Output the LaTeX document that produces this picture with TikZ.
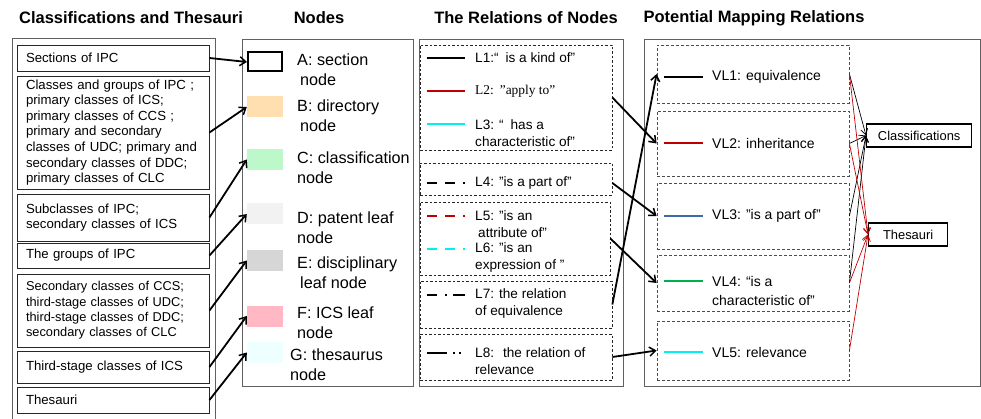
\documentclass[tikz,border=0pt]{standalone}
\usepackage{fontspec}
\setmainfont{Liberation Sans}
\newfontfamily\serifface{Liberation Serif}
\usetikzlibrary{arrows.meta}
\definecolor{darkred}{HTML}{C00000}
\definecolor{brightcyan}{HTML}{00F0F0}
\definecolor{steel}{HTML}{3E6AA8}
\definecolor{vgreen}{HTML}{00B050}
\definecolor{frame}{HTML}{606060}
\definecolor{peach}{HTML}{FFDEB0}
\definecolor{mint}{HTML}{BDF8CB}
\definecolor{paper}{HTML}{F2F2F2}
\definecolor{stone}{HTML}{D6D6D6}
\definecolor{blush}{HTML}{FFB8C4}
\definecolor{ice}{HTML}{EEFFFF}
\tikzset{
  title/.style={font=\fontsize{16.5}{19}\selectfont\bfseries},
  outer/.style={draw=frame, line width=0.9pt},
  lbox/.style={draw=black!85, line width=0.9pt, minimum width=192pt, text width=174pt,
    inner xsep=9pt, inner ysep=0pt, align=left, font=\fontsize{13.2}{15.6}\selectfont},
  swatch/.style={minimum width=36pt, minimum height=21pt, inner sep=0pt},
  nodetext/.style={anchor=west, align=left, inner sep=0pt, font=\fontsize{16.2}{20}\selectfont},
  reltext/.style={anchor=west, align=left, inner sep=0pt, font=\fontsize{13.6}{16.8}\selectfont},
  maptext/.style={anchor=west, align=left, inner sep=0pt, font=\fontsize{14}{19}\selectfont},
  relbox/.style={draw=black!85, line width=0.7pt, dash pattern=on 2.5pt off 2pt},
  mapbox/.style={draw=black!70, line width=0.8pt, dash pattern=on 3pt off 2pt},
  sample/.style={line width=2.3pt},
  fat/.style={-{Straight Barb[length=6pt,width=9pt,line width=1.5pt]}, line width=1.8pt},
  slim/.style={-{Straight Barb[length=6pt,width=7pt,line width=0.7pt]}, line width=0.7pt},
  target/.style={draw, line width=1.3pt, minimum height=23pt, inner xsep=6pt, font=\fontsize{12.9}{15}\selectfont}
}
\begin{document}
\begin{tikzpicture}[x=1pt, y=-1pt]
\useasboundingbox (0,0) rectangle (981,419);

% headings
\node[title] (h1) at (131,18) {Classifications and Thesauri};
\node[title] (h2) at (319,18) {Nodes};
\node[title] (h3) at (526,18) {The Relations of Nodes};
\node[title] (h4) at (754,18) {Potential Mapping Relations};

% ---- classification and thesaurus sources ----
\draw[outer] (12,419) -- (12,38) -- (215,38) -- (215,419);
\node[lbox, minimum height=26pt] (sA) at (113,58) {Sections of IPC};
\node[lbox, minimum height=113pt] (sB) at (113,132.5) {Classes and groups of IPC ;\\primary classes of ICS;\\primary classes of CCS ;\\primary and secondary\\classes of UDC; primary and\\secondary classes of DDC;\\primary classes of CLC};
\node[lbox, minimum height=47pt] (sC) at (113,217.5) {Subclasses of IPC;\\secondary classes of ICS};
\node[lbox, minimum height=25pt] (sD) at (113,255.5) {The groups of IPC};
\node[lbox, minimum height=73pt, font=\fontsize{12.8}{15.3}\selectfont] (sE) at (113,310.5) {Secondary classes of CCS;\\third-stage classes of UDC;\\third-stage classes of DDC;\\secondary classes of CLC};
\node[lbox, minimum height=32pt] (sF) at (113,367) {Third-stage classes of ICS};
\node[lbox, minimum height=26pt] (sG) at (113,400) {Thesauri};

% ---- node kinds ----
\draw[outer] (242,39) rectangle (413,386);
\node[swatch, draw, line width=2pt, minimum width=34pt, minimum height=19pt] (nA) at (265,62) {};
\node[swatch, fill=peach] (nB) at (265,107) {};
\node[swatch, fill=mint] (nC) at (265,159.5) {};
\node[swatch, fill=paper] (nD) at (265,214) {};
\node[swatch, fill=stone] (nE) at (265,260.5) {};
\node[swatch, fill=blush] (nF) at (265,316) {};
\node[swatch, fill=ice] (nG) at (265,352.5) {};
\node[nodetext] (tA) at (297,70) {A: section\\\hspace*{3pt}node};
\node[nodetext] (tB) at (297,116) {B: directory\\\hspace*{3pt}node};
\node[nodetext] (tC) at (297,168) {C: classification\\node};
\node[nodetext] (tD) at (297,227.5) {D: patent leaf\\node};
\node[nodetext] (tE) at (297,273) {E: disciplinary\\\hspace*{3pt}leaf node};
\node[nodetext] (tF) at (297,323) {F: ICS leaf\\node};
\node[nodetext] (tG) at (290,365) {G: thesaurus\\node};

\foreach \s/\n in {sA/nA, sB/nB, sC/nC, sD/nD, sE/nE, sF/nF, sG/nG}
  \draw[fat] (\s.east) -- (\n.west);

% ---- relations between nodes ----
\draw[outer] (419,39) rectangle (623,386);
\node[relbox, minimum width=192pt, minimum height=105pt] (g1) at (516,97.5) {};
\node[relbox, minimum width=192pt, minimum height=32pt] (g2) at (516,179) {};
\node[relbox, minimum width=190pt, minimum height=73pt] (g3) at (515,238.5) {};
\node[relbox, minimum width=192pt, minimum height=47pt] (g4) at (516,304.5) {};
\node[relbox, minimum width=192pt, minimum height=46pt] (g5) at (516,357) {};

\draw[sample] (427,58) -- (465,58);
\draw[sample, darkred] (427,91) -- (465,91);
\draw[sample, brightcyan] (427,124) -- (465,124);
\draw[sample, dash pattern=on 10pt off 8pt on 10pt off 8pt on 2pt off 2pt] (427,183) -- (465,183);
\draw[sample, darkred, dash pattern=on 10pt off 8pt on 10pt off 8pt on 2pt off 2pt] (427,216) -- (465,216);
\draw[sample, brightcyan, dash pattern=on 10pt off 8pt on 10pt off 8pt on 2pt off 2pt] (427,249) -- (465,249);
\draw[sample, dash pattern=on 10pt off 8pt on 2pt off 6pt on 12pt off 2pt] (427,295) -- (465,295);
\draw[sample, dash pattern=on 20pt off 6pt on 2pt off 4pt on 2pt off 6pt] (427,353) -- (465,353);

\node[reltext] (r1) at (475,58) {L1:“\hspace{7pt}is a kind of”};
\node[reltext, font=\serifface\fontsize{13.4}{16}\selectfont] (r2) at (475,91) {L2:\hspace{6pt}”apply to”};
\node[reltext] (r3) at (475,133.5) {L3: “\hspace{7pt}has a\\characteristic of”};
\node[reltext] (r4) at (475,183) {L4: "is a part of"};
\node[reltext] (r5) at (475,224.5) {L5: "is an\\\hspace*{3pt}attribute of"};
\node[reltext] (r6) at (475,257.5) {L6: "is an\\expression of "};
\node[reltext] (r7) at (475,303.5) {L7:\hspace{5pt}the relation\\of equivalence};
\node[reltext] (r8) at (475,361) {L8:\hspace{9pt}the relation of\\relevance};

% ---- potential mapping relations ----
\draw[outer] (644,39) rectangle (980,386);
\node[mapbox, minimum width=192pt, minimum height=58pt] (v1) at (753,74) {};
\node[mapbox, minimum width=192pt, minimum height=65pt] (v2) at (753,143.5) {};
\node[mapbox, minimum width=192pt, minimum height=66pt] (v3) at (753,216) {};
\node[mapbox, minimum width=192pt, minimum height=56pt] (v4) at (753,283) {};
\node[mapbox, minimum width=192pt, minimum height=59pt] (v5) at (753,350.5) {};

\draw[sample, line width=2pt] (664,77) -- (703,77);
\draw[sample, line width=2pt, darkred] (664,143) -- (703,143);
\draw[sample, line width=2pt, steel] (664,216) -- (703,216);
\draw[sample, line width=2pt, vgreen] (664,281) -- (703,281);
\draw[sample, line width=2pt, brightcyan] (664,352) -- (703,352);

\node[maptext] (m1) at (712,77) {VL1: equivalence};
\node[maptext] (m2) at (712,143) {VL2: inheritance};
\node[maptext] (m3) at (712,216) {VL3:\hspace{5pt}"is a part of"};
\node[maptext] (m4) at (712,290.5) {VL4:\hspace{5pt}“is a\\characteristic of"};
\node[maptext] (m5) at (712,352) {VL5: relevance};

\node[target, anchor=west, minimum width=105pt] (cls) at (866,135.5) {Classifications};
\node[target, anchor=west, minimum width=79pt] (ths) at (868,234.5) {Thesauri};

% relation groups to mapping relations
\draw[fat] (g1.east) -- (v2.west);
\draw[fat] (g2.east) ++(0,4) -- (v3.west);
\draw[fat] (g3.east) -- (v4.west);
\draw[fat] (g4.east) -- (v1.west);
\draw[fat] (g5.east) -- (v5.west);

% mapping relations to the two targets
\foreach \v in {v1, v2, v3, v4}
  \draw[slim] (\v.east) -- (cls.west);
\foreach \v in {v1, v2, v4, v5}
  \draw[slim, darkred] (\v.east) -- (ths.west);
\end{tikzpicture}
\end{document}
